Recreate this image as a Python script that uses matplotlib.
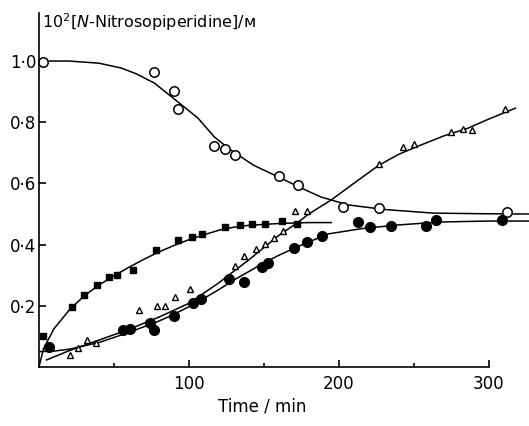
import numpy as np
import matplotlib
matplotlib.use("Agg")
import matplotlib.pyplot as plt
from matplotlib.ticker import FixedLocator, FuncFormatter

# open circles (decay curve)
t_open = [3, 77, 90, 92.5, 117, 124, 131, 160, 173, 203, 227, 312]
c_open = [0.997, 0.964, 0.902, 0.843, 0.722, 0.712, 0.693, 0.624, 0.595, 0.523, 0.520, 0.506]
fit_open_t = [0, 20, 40, 55, 65, 77, 91, 106, 117, 128, 143, 161, 175, 188, 206, 230, 263, 295, 328]
fit_open_c = [1.0, 1.0, 0.993, 0.977, 0.958, 0.928, 0.873, 0.814, 0.752, 0.709, 0.66, 0.618,
              0.585, 0.556, 0.53, 0.515, 0.503, 0.501, 0.5]

# open triangles
t_tri = [21, 26, 32, 38, 67, 79, 84, 91, 101, 131, 137, 145, 151, 157, 163, 171, 179,
         227, 243, 250, 275, 283, 289, 311]
c_tri = [0.039, 0.062, 0.088, 0.078, 0.186, 0.199, 0.199, 0.229, 0.255, 0.33, 0.363, 0.386,
         0.402, 0.42, 0.444, 0.51, 0.51, 0.663, 0.72, 0.729, 0.768, 0.777, 0.775, 0.843]
fit_tri_t = [5, 20, 40, 60, 80, 100, 120, 130, 140, 150, 160, 172, 180, 195, 210, 227, 240,
             252, 270, 286, 300, 318]
fit_tri_c = [0.023, 0.053, 0.088, 0.123, 0.163, 0.208, 0.275, 0.313, 0.35, 0.39, 0.43, 0.47,
             0.50, 0.546, 0.6, 0.66, 0.695, 0.72, 0.755, 0.78, 0.81, 0.846]

# filled squares
t_sq = [3, 22, 30, 39, 47, 52, 63, 78, 93, 102, 109, 124, 134, 142, 151, 162, 172]
c_sq = [0.101, 0.196, 0.235, 0.268, 0.294, 0.30, 0.317, 0.382, 0.415, 0.425, 0.435, 0.457,
        0.464, 0.467, 0.467, 0.477, 0.467]
fit_sq_t = [0, 3, 10, 20, 30, 40, 50, 60, 70, 80, 90, 100, 110, 120, 130, 140, 160, 180, 195]
fit_sq_c = [0.0, 0.06, 0.125, 0.185, 0.232, 0.268, 0.298, 0.326, 0.352, 0.376, 0.397, 0.416,
            0.432, 0.447, 0.457, 0.463, 0.469, 0.472, 0.472]

# filled circles
t_fc = [7, 56, 61, 74, 77, 90, 103, 108, 127, 137, 149, 153, 170, 179, 189, 213, 221, 235,
        258, 265, 309]
c_fc = [0.065, 0.121, 0.124, 0.143, 0.121, 0.166, 0.21, 0.222, 0.288, 0.277, 0.328, 0.34,
        0.388, 0.407, 0.427, 0.473, 0.459, 0.462, 0.46, 0.479, 0.479]
fit_fc_t = [0, 10, 20, 40, 60, 80, 90, 100, 110, 120, 130, 140, 150, 160, 172, 193, 215, 239,
            268, 300, 328]
fit_fc_c = [0.05, 0.052, 0.058, 0.08, 0.113, 0.15, 0.172, 0.197, 0.224, 0.253, 0.284, 0.312,
            0.34, 0.365, 0.392, 0.435, 0.452, 0.464, 0.474, 0.477, 0.477]

fig = plt.figure(figsize=(5.29, 4.26), dpi=100)
ax = fig.add_axes([39 / 529, 59 / 426, 490 / 529, 354 / 426])

lw = 1.1
ax.plot(fit_open_t, fit_open_c, color="black", lw=lw)
ax.plot(fit_tri_t, fit_tri_c, color="black", lw=lw)
ax.plot(fit_sq_t, fit_sq_c, color="black", lw=lw)
ax.plot(fit_fc_t, fit_fc_c, color="black", lw=lw)

ax.plot(t_open, c_open, "o", ms=6.8, mfc="white", mec="black", mew=1.1, clip_on=False)
ax.plot(t_tri, c_tri, "^", ms=4.6, mfc="white", mec="black", mew=1.0, clip_on=False)
ax.plot(t_sq, c_sq, "s", ms=4.0, mfc="black", mec="black", clip_on=False)
ax.plot(t_fc, c_fc, "o", ms=7.0, mfc="black", mec="black", clip_on=False)

ax.set_xlim(0, 327)
ax.set_ylim(0, 1.157)
ax.spines["top"].set_visible(False)
ax.spines["right"].set_visible(False)
ax.spines["bottom"].set_bounds(0, 300)
ax.spines["left"].set_linewidth(1.2)
ax.spines["bottom"].set_linewidth(1.2)

ax.xaxis.set_major_locator(FixedLocator([100, 200, 300]))
ax.xaxis.set_minor_locator(FixedLocator([50, 150, 250]))
ax.yaxis.set_major_locator(FixedLocator([0.2, 0.4, 0.6, 0.8, 1.0]))
ax.yaxis.set_major_formatter(FuncFormatter(lambda v, p: f"{v:.1f}".replace(".", "\u00b7")))
ax.tick_params(axis="both", which="major", direction="in", length=5, width=1.2,
               labelsize=12, pad=4)
ax.tick_params(axis="x", which="minor", direction="in", length=3, width=1.2)
ax.tick_params(axis="x", which="major", pad=6)
ax.tick_params(axis="y", which="major", pad=2)

ax.set_xlabel("Time / min", fontsize=12)
ax.xaxis.set_label_coords((262 - 39) / 490, -0.085)

fig.text(42 / 529, 1 - 22 / 426, r"10$^2$[$\it{N}$-Nitrosopiperidine]/ᴍ",
         fontsize=11.5, va="center", ha="left")

fig.savefig("out.png", dpi=100)
